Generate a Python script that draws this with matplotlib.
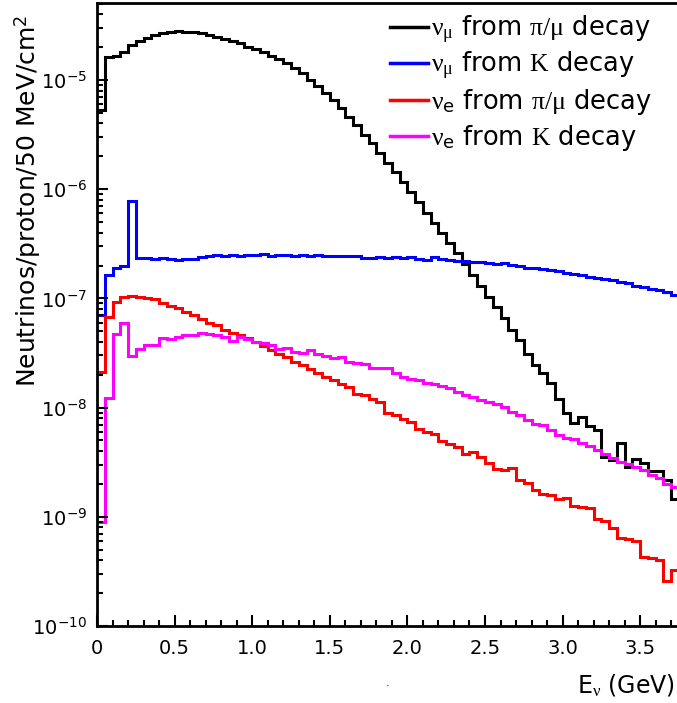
import numpy as np
import matplotlib
matplotlib.use('Agg')
import matplotlib.pyplot as plt
from matplotlib.lines import Line2D
from matplotlib.ticker import MultipleLocator, LogLocator, FuncFormatter, NullFormatter

plt.rcParams['font.family'] = 'DejaVu Sans'
plt.rcParams['mathtext.fontset'] = 'custom'
plt.rcParams['mathtext.rm'] = 'Liberation Serif'
plt.rcParams['mathtext.it'] = 'Liberation Serif'
plt.rcParams['mathtext.sf'] = 'DejaVu Sans'
plt.rcParams['axes.unicode_minus'] = False

# histogram bins of 50 MeV, values are log10(flux)
bin_width = 0.05

log_numu_pi = [
    -5.275, -4.792, -4.780, -4.746, -4.679, -4.640, -4.618, -4.588, -4.572, -4.558,
    -4.555, -4.558, -4.563, -4.572, -4.588, -4.603, -4.625, -4.640, -4.664, -4.695,
    -4.719, -4.746, -4.777, -4.808, -4.847, -4.893, -4.939, -5.000, -5.055, -5.116,
    -5.183, -5.259, -5.336, -5.412, -5.504, -5.580, -5.671, -5.757, -5.847, -5.934,
    -6.026, -6.114, -6.215, -6.307, -6.404, -6.496, -6.587, -6.688, -6.786, -6.886,
    -6.984, -7.082, -7.182, -7.289, -7.381, -7.509, -7.610, -7.680, -7.778, -7.924,
    -8.052, -8.138, -8.089, -8.168, -8.205, -8.449, -8.480, -8.321, -8.547, -8.474,
    -8.510, -8.578, -8.578, -8.663, -8.840]

log_numu_k = [
    -7.152, -6.786, -6.725, -6.703, -6.105, -6.633, -6.633, -6.639, -6.630, -6.636,
    -6.651, -6.642, -6.636, -6.624, -6.615, -6.606, -6.609, -6.606, -6.609, -6.606,
    -6.600, -6.594, -6.615, -6.603, -6.600, -6.615, -6.600, -6.615, -6.603, -6.612,
    -6.609, -6.612, -6.609, -6.615, -6.627, -6.633, -6.624, -6.627, -6.624, -6.633,
    -6.621, -6.639, -6.645, -6.624, -6.642, -6.648, -6.658, -6.661, -6.664, -6.667,
    -6.673, -6.685, -6.679, -6.691, -6.703, -6.719, -6.725, -6.731, -6.740, -6.752,
    -6.771, -6.777, -6.789, -6.801, -6.816, -6.825, -6.832, -6.847, -6.862, -6.886,
    -6.898, -6.917, -6.923, -6.944, -6.969]

log_nue_pi = [
    -7.671, -7.167, -7.030, -6.990, -6.981, -6.984, -6.993, -7.008, -7.039, -7.067,
    -7.091, -7.122, -7.152, -7.192, -7.222, -7.244, -7.289, -7.314, -7.335, -7.366,
    -7.396, -7.433, -7.473, -7.509, -7.540, -7.579, -7.610, -7.650, -7.680, -7.717,
    -7.747, -7.784, -7.808, -7.878, -7.885, -7.921, -7.952, -8.045, -8.064, -8.103,
    -8.129, -8.199, -8.221, -8.239, -8.309, -8.335, -8.362, -8.425, -8.404, -8.456,
    -8.505, -8.565, -8.571, -8.556, -8.663, -8.693, -8.755, -8.791, -8.800, -8.840,
    -8.831, -8.901, -8.913, -8.922, -9.023, -9.036, -9.105, -9.197, -9.206, -9.219,
    -9.371, -9.380, -9.396, -9.585, -9.487]

log_nue_k = [
    -9.045, -7.915, -7.326, -7.228, -7.525, -7.463, -7.427, -7.427, -7.366, -7.375,
    -7.351, -7.335, -7.335, -7.314, -7.323, -7.335, -7.351, -7.387, -7.351, -7.375,
    -7.396, -7.411, -7.427, -7.466, -7.457, -7.488, -7.497, -7.473, -7.509, -7.525,
    -7.549, -7.540, -7.579, -7.595, -7.601, -7.641, -7.641, -7.634, -7.680, -7.717,
    -7.738, -7.747, -7.778, -7.787, -7.802, -7.824, -7.854, -7.885, -7.900, -7.930,
    -7.952, -7.967, -7.997, -8.037, -8.068, -8.114, -8.150, -8.159, -8.205, -8.251,
    -8.281, -8.290, -8.321, -8.352, -8.385, -8.425, -8.464, -8.495, -8.516, -8.547,
    -8.571, -8.617, -8.648, -8.700, -8.730]

labels = [r'$\nu_{\mu}$ from $\pi/\mu$ decay',
          r'$\nu_{\mu}$ from $\mathrm{K}$ decay',
          r'$\nu_{\mathsf{e}}$ from $\pi/\mu$ decay',
          r'$\nu_{\mathsf{e}}$ from $\mathrm{K}$ decay']
colors = ['black', '#0000ff', '#ff0000', '#ff00ff']
series = [log_numu_pi, log_numu_k, log_nue_pi, log_nue_k]

W, H = 677, 703
fig = plt.figure(figsize=(W / 100, H / 100), dpi=100)
ax = fig.add_axes([97 / W, 77 / H, 582 / W, 623 / H])

for vals, col in zip(series, colors):
    vals = np.array(vals)
    edges = np.arange(len(vals) + 1) * bin_width
    ax.stairs(10 ** vals, edges, baseline=None, color=col, lw=2.2)

ax.set_yscale('log')
ax.set_xlim(0, 3.75)
ax.set_ylim(1e-10, 10 ** -4.295)

ax.xaxis.set_major_locator(MultipleLocator(0.5))
ax.xaxis.set_minor_locator(MultipleLocator(0.1))
ax.xaxis.set_major_formatter(FuncFormatter(lambda v, p: '0' if abs(v) < 1e-9 else f'{v:.1f}'))
ax.yaxis.set_major_locator(LogLocator(base=10, numticks=20))
ax.yaxis.set_minor_locator(LogLocator(base=10, subs=np.arange(2, 10), numticks=20))
ax.yaxis.set_minor_formatter(NullFormatter())

ax.tick_params(which='both', direction='in', top=False, right=False, width=1.5, labelsize=14)
ax.tick_params(which='major', length=8)
ax.tick_params(which='minor', length=4)
ax.tick_params(axis='x', pad=9)
ax.tick_params(axis='y', pad=7)

for s in ['left', 'bottom', 'top']:
    ax.spines[s].set_linewidth(2)
ax.spines['right'].set_visible(False)

# legend, drawn by hand in ROOT style
for i, (lab, col) in enumerate(zip(labels, colors)):
    y = 27 + 36.3 * i
    fig.add_artist(Line2D([390 / W, 428 / W], [1 - y / H] * 2, color=col, lw=2.5))
    fig.text(431 / W, 1 - (y + 9) / H, lab, fontsize=18.5, ha='left', va='baseline')

fig.text(28 / W, 1 - 15 / H, r'Neutrinos/proton/50 MeV/cm$^{\mathdefault{2}}$',
         rotation=90, ha='center', va='top', fontsize=18)
fig.text(675 / W, 1 - 692 / H, r'E$_{\nu}$ (GeV)', ha='right', va='baseline', fontsize=17)
fig.text(388 / W, 1 - 686 / H, '.', ha='center', va='baseline', fontsize=8)

fig.savefig('out.png', dpi=100)
